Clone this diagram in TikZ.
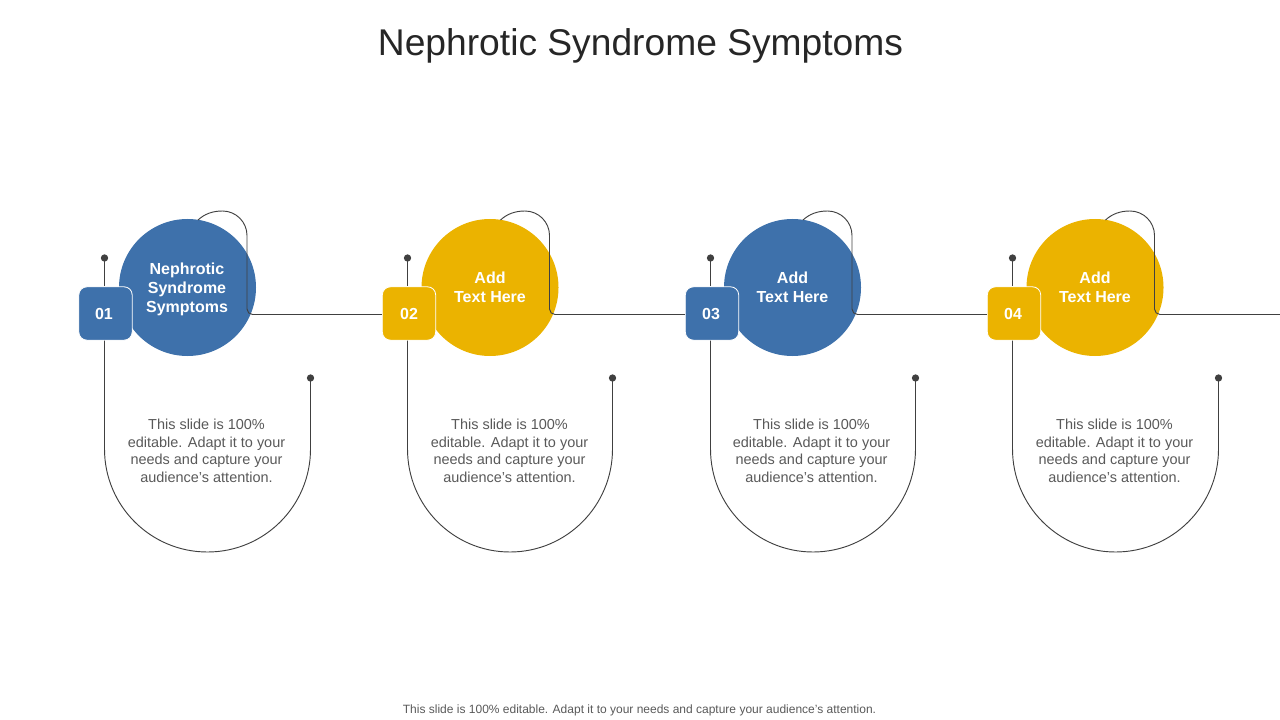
\documentclass[tikz,border=0pt]{standalone}
\usepackage{fontspec}
\setmainfont{Liberation Sans}
\definecolor{blueA}{HTML}{3E71AB}
\definecolor{goldA}{HTML}{EBB300}
\definecolor{lineA}{HTML}{404040}
\definecolor{textA}{HTML}{595959}
\definecolor{titleA}{HTML}{262626}
\tikzset{
  x=0.75pt,y=-0.75pt,
  conn/.style={draw=lineA,line width=0.7pt},
  disc/.style={circle,minimum size=137*0.75pt,inner sep=0pt,fill=#1},
  disclabel/.style={text=white,align=center,font=\fontsize{12}{14.3}\selectfont\bfseries},
  badge/.style={rounded corners=6pt,draw=white,line width=0.6pt,minimum size=40pt,inner sep=0pt},
  badgenum/.style={text=white,font=\fontsize{12}{14}\selectfont\bfseries},
  pin/.style={circle,fill=lineA,minimum size=5.5pt,inner sep=0pt},
  body/.style={text=textA,align=center,font=\fontsize{10.85}{13.2}\selectfont},
}
\begin{document}
\begin{tikzpicture}
\useasboundingbox (0,0) rectangle (1280,720);
\node[text=titleA,font=\fontsize{27.9}{32}\selectfont] (title) at (640.5,46) {Nephrotic Syndrome Symptoms};
\node[text=textA,font=\fontsize{9}{11}\selectfont] (foot) at (639.5,710) {This slide is 100\% editable. Adapt it to your needs and capture your audience's attention.};
\coordinate (s5) at (1280,314.5);
% circles, pins and descriptions
\foreach \i/\cx/\px/\qx/\tx/\col in {
 1/187.5/104.5/310.5/206.5/blueA,
 2/490/407.5/612.5/509.5/goldA,
 3/792.5/710.5/915.5/811.5/blueA,
 4/1095/1012.5/1218.5/1114.5/goldA}{
  \node[disc=\col] (c\i) at (\cx,287.5) {};
  \node[pin] (p\i) at (\px,258) {};
  \node[pin] (q\i) at (\qx,378) {};
  \node[body] (t\i) at (\tx,451) {This slide is 100\%\\editable. Adapt it to your\\needs and capture your\\audience's attention.};
}
\node[disclabel] (l1) at (187,289.5) {Nephrotic\\Syndrome\\Symptoms};
\node[disclabel] (l2) at (490,287.5) {Add\\Text Here};
\node[disclabel] (l3) at (792.5,287.5) {Add\\Text Here};
\node[disclabel] (l4) at (1095,287.5) {Add\\Text Here};
% badges
\foreach \i/\col/\sx in {1/blueA/105.5,2/goldA/409,3/blueA/712,4/goldA/1014}{
  \node[badge,fill=\col] (s\i) at (\sx,313.5) {};
}
\node[badgenum] (n1) at (104,314) {01};
\node[badgenum] (n2) at (409,314) {02};
\node[badgenum] (n3) at (711,314) {03};
\node[badgenum] (n4) at (1013,314) {04};
% U-shaped connectors
\foreach \i/\r in {1/103,2/102.5,3/102.5,4/103}{
  \draw[conn] (p\i.center) -- (s\i.north -| p\i);
  \draw[conn] (s\i.south -| p\i) -- (p\i |- 0,449)
     arc[start angle=180,end angle=360,x radius=\r,y radius=-103]
     -- (q\i.center);
}
% connectors looping round each circle to the next badge
\foreach \i/\j in {1/2,2/3,3/4,4/5}{
  \draw[conn] ([shift={(10.5,-67.5)}]c\i.center)
     .. controls ([shift={(17,-73.5)}]c\i.center) and ([shift={(25,-76.5)}]c\i.center)
     .. ([shift={(35,-76.5)}]c\i.center)
     .. controls ([shift={(48.5,-76.5)}]c\i.center) and ([shift={(59.5,-65.5)}]c\i.center)
     .. ([shift={(59.5,-52)}]c\i.center)
     -- ([shift={(59.5,21.5)}]c\i.center)
     .. controls ([shift={(59.5,24.5)}]c\i.center) and ([shift={(62,27)}]c\i.center)
     .. ([shift={(65,27)}]c\i.center)
     -- (s\j.west |- 0,314.5);
}
\end{tikzpicture}
\end{document}
